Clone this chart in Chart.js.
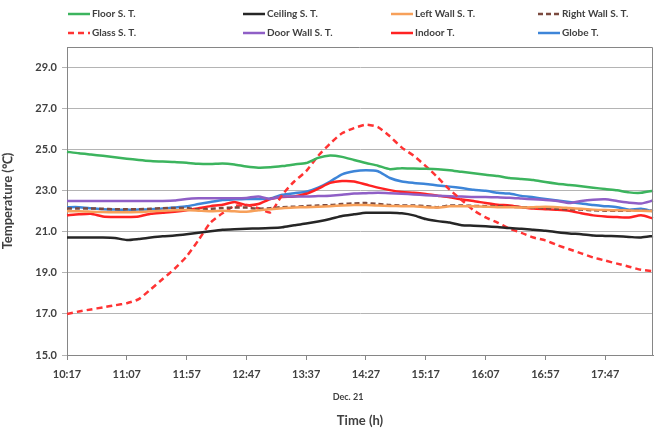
<!DOCTYPE html>
<html>
<head>
<meta charset="UTF-8">
<title>Surface temperatures</title>
<script src="https://cdn.jsdelivr.net/npm/chart.js"></script>
<style>
  html, body { margin: 0; padding: 0; background: #fff; }
  #myChart { display: block; }
</style>
</head>
<body>
<canvas id="myChart" width="663" height="443"></canvas>
<script>
// time of each reading (every 10 min, Dec. 21)
const times = ['10:17','10:27','10:37','10:47','10:57','11:07','11:17','11:27','11:37','11:47',
  '11:57','12:07','12:17','12:27','12:37','12:47','12:57','13:07','13:17','13:27',
  '13:37','13:47','13:57','14:07','14:17','14:27','14:37','14:47','14:57','15:07',
  '15:17','15:27','15:37','15:47','15:57','16:07','16:17','16:27','16:37','16:47',
  '16:57','17:07','17:17','17:27','17:37','17:47','17:57','18:07','18:17','18:27'];

const yTicks = [15, 17, 19, 21, 23, 25, 27, 29];

const floorST = [24.9,24.82,24.76,24.7,24.63,24.56,24.5,24.45,24.42,24.4,
  24.36,24.31,24.3,24.33,24.28,24.18,24.12,24.14,24.2,24.28,
  24.35,24.6,24.72,24.65,24.5,24.35,24.22,24.05,24.1,24.08,
  24.07,24.05,24.0,23.92,23.85,23.78,23.72,23.62,23.57,23.52,
  23.42,23.34,23.28,23.22,23.15,23.08,23.02,22.92,22.9,23.0];

const ceilingST = [20.72,20.72,20.72,20.72,20.7,20.6,20.65,20.72,20.78,20.82,
  20.88,20.95,21.03,21.1,21.13,21.15,21.16,21.18,21.22,21.32,
  21.4,21.5,21.62,21.77,21.85,21.93,21.93,21.93,21.9,21.8,
  21.62,21.52,21.45,21.32,21.3,21.27,21.23,21.18,21.15,21.1,
  21.05,20.98,20.92,20.88,20.82,20.8,20.78,20.75,20.72,20.8];

const leftWallST = [22.0,22.0,21.98,21.96,21.95,21.95,21.96,22.0,22.02,22.05,
  22.06,22.03,22.0,22.02,22.0,21.98,22.05,22.1,22.15,22.18,
  22.2,22.22,22.25,22.28,22.3,22.3,22.28,22.26,22.25,22.24,
  22.2,22.18,22.24,22.25,22.24,22.22,22.2,22.2,22.18,22.2,
  22.22,22.2,22.16,22.12,22.08,22.06,22.05,22.04,22.02,22.0];

const rightWallST = [22.13,22.13,22.14,22.12,22.1,22.1,22.1,22.12,22.15,22.16,
  22.16,22.08,22.12,22.16,22.18,22.18,22.12,22.15,22.2,22.22,
  22.25,22.28,22.3,22.35,22.38,22.4,22.35,22.3,22.28,22.28,
  22.25,22.2,22.28,22.28,22.26,22.25,22.24,22.22,22.2,22.18,
  22.15,22.12,22.1,22.08,22.05,22.03,22.02,22.02,22.02,22.02];

const glassST = [17.0,17.12,17.22,17.32,17.42,17.52,17.72,18.2,18.7,19.2,
  19.8,20.6,21.45,21.9,22.25,22.3,22.15,21.95,22.8,23.45,
  23.95,24.7,25.3,25.8,26.05,26.22,26.1,25.65,25.1,24.7,
  24.2,23.65,23.05,22.55,22.05,21.7,21.45,21.15,20.95,20.72,
  20.58,20.35,20.15,19.95,19.75,19.6,19.45,19.3,19.15,19.08];

const doorWallST = [22.5,22.5,22.5,22.5,22.5,22.5,22.5,22.5,22.5,22.52,
  22.6,22.63,22.63,22.63,22.63,22.65,22.72,22.6,22.72,22.72,
  22.72,22.74,22.76,22.8,22.86,22.88,22.9,22.88,22.85,22.82,
  22.78,22.75,22.73,22.72,22.7,22.7,22.68,22.66,22.62,22.58,
  22.55,22.5,22.4,22.5,22.56,22.58,22.5,22.42,22.38,22.52];

const indoorT = [21.8,21.85,21.88,21.75,21.72,21.72,21.75,21.88,21.93,21.98,
  22.05,22.15,22.25,22.32,22.45,22.3,22.35,22.6,22.7,22.72,
  22.85,23.1,23.38,23.47,23.45,23.3,23.15,23.03,22.94,22.9,
  22.84,22.76,22.68,22.57,22.5,22.4,22.32,22.28,22.2,22.13,
  22.1,22.07,22.02,21.9,21.8,21.75,21.72,21.7,21.8,21.65];

const globeT = [22.2,22.2,22.15,22.1,22.08,22.08,22.08,22.1,22.13,22.18,
  22.24,22.35,22.45,22.55,22.58,22.6,22.6,22.62,22.8,22.88,
  22.95,23.15,23.45,23.8,23.95,24.0,23.95,23.62,23.45,23.38,
  23.33,23.26,23.2,23.13,23.05,23.0,22.9,22.86,22.75,22.68,
  22.6,22.52,22.45,22.38,22.3,22.25,22.2,22.08,22.12,22.0];

const axisFont = { family: 'Lato', size: 11, weight: 'bold' };
const textColor = '#404040';

function line(label, data, color, dash) {
  return { label: label, data: data, borderColor: color, backgroundColor: color,
           borderDash: dash || [], borderWidth: 2.5, pointRadius: 0, tension: 0.2, fill: false };
}

const data = {
  labels: times,
  datasets: [
    line('Floor S. T.', floorST, '#3cb45e'),
    line('Ceiling S. T.', ceilingST, '#262626'),
    line('Left Wall S. T.', leftWallST, '#f7a05a'),
    line('Right Wall S. T.', rightWallST, '#7b4a3f', [5, 3]),
    line('Glass S. T.', glassST, '#ff3333', [6, 4]),
    line('Door Wall S. T.', doorWallST, '#8f5fc6'),
    line('Indoor T.', indoorT, '#ff2222'),
    line('Globe T.', globeT, '#3d85d8')
  ]
};

// legend in a 4 x 2 grid above the plot, plus frame and date caption
const extras = {
  id: 'extras',
  afterDraw(chart) {
    const ctx = chart.ctx;
    const area = chart.chartArea;
    const colX = [68, 243, 391, 538];
    const rowY = [14, 33];
    ctx.save();
    chart.data.datasets.forEach((ds, i) => {
      const x = colX[i % 4], y = rowY[Math.floor(i / 4)];
      ctx.strokeStyle = ds.borderColor;
      ctx.lineWidth = 2.5;
      ctx.setLineDash(ds.borderDash);
      ctx.beginPath();
      ctx.moveTo(x, y);
      ctx.lineTo(x + 22, y);
      ctx.stroke();
      ctx.setLineDash([]);
      ctx.fillStyle = textColor;
      ctx.font = 'bold 10px Lato';
      ctx.textBaseline = 'middle';
      ctx.fillText(ds.label, x + 24, y);
    });
    // plot frame (top and right)
    ctx.strokeStyle = '#868686';
    ctx.lineWidth = 1;
    ctx.beginPath();
    ctx.moveTo(area.left, area.top + 0.5);
    ctx.lineTo(area.right - 0.5, area.top + 0.5);
    ctx.lineTo(area.right - 0.5, area.bottom);
    ctx.stroke();
    // date caption under the time axis
    ctx.fillStyle = textColor;
    ctx.font = 'bold 9px Lato';
    ctx.textAlign = 'center';
    ctx.fillText('Dec. 21', (area.left + area.right) / 2 - 12, 397);
    ctx.restore();
  }
};

const config = {
  type: 'line',
  data: data,
  options: {
    responsive: false,
    animation: false,
    layout: { padding: { top: 47, right: 10, left: 0, bottom: 0 } },
    plugins: { legend: { display: false }, tooltip: { enabled: false } },
    scales: {
      x: {
        type: 'category',
        offset: false,
        afterBuildTicks: s => { s.ticks = s.ticks.filter(t => t.value % 5 === 0); },
        afterFit: s => { s.height = 88; },
        grid: { drawOnChartArea: false, drawTicks: true, tickLength: 5, color: '#868686' },
        border: { color: '#868686', width: 1 },
        ticks: {
          autoSkip: false, maxRotation: 0, padding: 8, color: textColor, font: axisFont,
          callback: function (v) { return this.getLabelForValue(v); }
        },
        title: { display: true, text: 'Time (h)', color: textColor,
                 font: { family: 'Lato', size: 13, weight: 'bold' }, padding: { top: 0, bottom: 14 } }
      },
      y: {
        min: 15,
        max: 30,
        afterBuildTicks: s => { s.ticks = yTicks.map(v => ({ value: v })); },
        afterFit: s => { s.width = 67; },
        grid: { color: '#b4b4b4', tickLength: 5 },
        border: { color: '#868686', width: 1 },
        ticks: { padding: 5, color: textColor, font: axisFont, callback: v => v.toFixed(1) },
        title: { display: true, text: 'Temperature (℃)', color: textColor,
                 font: { family: 'Lato', size: 13, weight: 'bold' }, padding: { top: 0, bottom: 4 } }
      }
    }
  },
  plugins: [extras]
};

const myChart = new Chart(document.getElementById('myChart'), config);
</script>
</body>
</html>
